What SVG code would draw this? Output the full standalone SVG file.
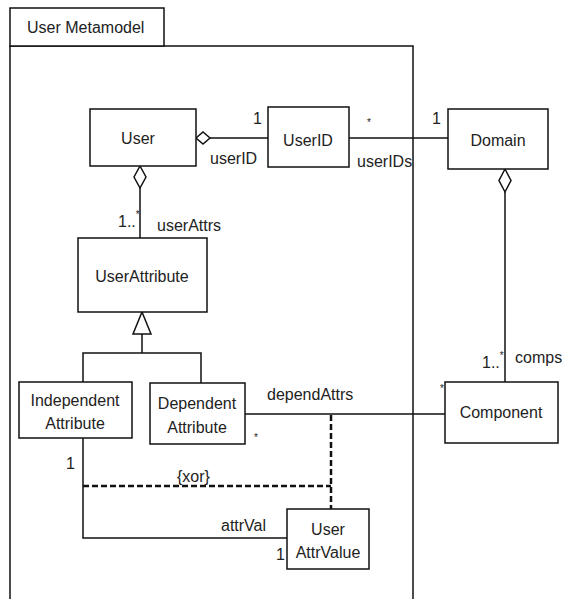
<svg xmlns="http://www.w3.org/2000/svg" width="562" height="599" viewBox="0 0 562 599">
<style>
  .box { fill: #fff; stroke: #111; stroke-width: 1.5; }
  .ln { fill: none; stroke: #111; stroke-width: 1.5; }
  .dash { fill: none; stroke: #111; stroke-width: 2.5; stroke-dasharray: 6 3; }
  .dia { fill: #fff; stroke: #111; stroke-width: 1.5; }
  text { font-family: "Liberation Sans", Arial, sans-serif; font-size: 16px; fill: #222; }
  .c { text-anchor: middle; }
  .sm { font-size: 10px; }
</style>
<rect width="562" height="599" fill="#fff"/>
<g id="frame">
  <rect class="box" x="10" y="46" width="403" height="570"/>
  <rect class="box" x="10" y="8" width="154" height="38"/>
  <text x="27" y="33">User Metamodel</text>
</g>
<g id="connectors">
  <line class="ln" x1="210" y1="138" x2="268" y2="138"/>
  <polygon class="dia" points="196,138 203,132 210,138 203,144"/>
  <line class="ln" x1="349" y1="138" x2="448" y2="138"/>
  <line class="ln" x1="140" y1="188" x2="140" y2="238"/>
  <polygon class="dia" points="140,166 146,177 140,188 134,177"/>
  <line class="ln" x1="505" y1="192" x2="505" y2="382"/>
  <polygon class="dia" points="505,169 511,180.5 505,192 499,180.5"/>
  <polyline class="ln" points="83,382 83,353 201,353 201,383"/>
  <line class="ln" x1="142" y1="334" x2="142" y2="353"/>
  <polygon class="dia" points="142,312 151,334 133,334"/>
  <line class="ln" x1="245" y1="414" x2="445" y2="414"/>
  <polyline class="ln" points="83,438 83,538 290,538"/>
  <line class="dash" x1="331" y1="415" x2="331" y2="509"/>
  <line class="dash" x1="83" y1="486" x2="331" y2="486"/>
  <text x="253" y="124">1</text>
  <text x="210" y="164">userID</text>
  <text x="367" y="126" class="sm">*</text>
  <text x="357" y="167">userIDs</text>
  <text x="432" y="124">1</text>
  <text x="118" y="227">1..<tspan class="sm" dy="-9">*</tspan></text>
  <text x="157" y="231">userAttrs</text>
  <text x="482" y="368">1..<tspan class="sm" dy="-9">*</tspan></text>
  <text x="515" y="363">comps</text>
  <text x="440" y="392" class="sm">*</text>
  <text x="254" y="441" class="sm">*</text>
  <text x="267" y="400">dependAttrs</text>
  <text x="66" y="469">1</text>
  <text x="177" y="482">{xor}</text>
  <text x="221" y="531">attrVal</text>
  <text x="276" y="560">1</text>
</g>
<g id="User">
  <rect class="box" x="90" y="109" width="106" height="57"/>
  <text class="c" x="138" y="144">User</text>
</g>
<g id="UserID">
  <rect class="box" x="268" y="107" width="81" height="60"/>
  <text class="c" x="308" y="146">UserID</text>
</g>
<g id="Domain">
  <rect class="box" x="448" y="109" width="100" height="60"/>
  <text class="c" x="498" y="146">Domain</text>
</g>
<g id="UserAttribute">
  <rect class="box" x="78" y="238" width="129" height="74"/>
  <text class="c" x="142" y="282">UserAttribute</text>
</g>
<g id="IndependentAttribute">
  <rect class="box" x="19" y="382" width="113" height="56"/>
  <text class="c" x="75" y="406">Independent</text>
  <text class="c" x="75" y="429">Attribute</text>
</g>
<g id="DependentAttribute">
  <rect class="box" x="150" y="383" width="95" height="61"/>
  <text class="c" x="197" y="409">Dependent</text>
  <text class="c" x="197" y="433">Attribute</text>
</g>
<g id="Component">
  <rect class="box" x="445" y="382" width="113" height="61"/>
  <text class="c" x="501" y="418">Component</text>
</g>
<g id="UserAttrValue">
  <rect class="box" x="287" y="509" width="82" height="60"/>
  <text class="c" x="328" y="535">User</text>
  <text class="c" x="328" y="558">AttrValue</text>
</g>
</svg>
